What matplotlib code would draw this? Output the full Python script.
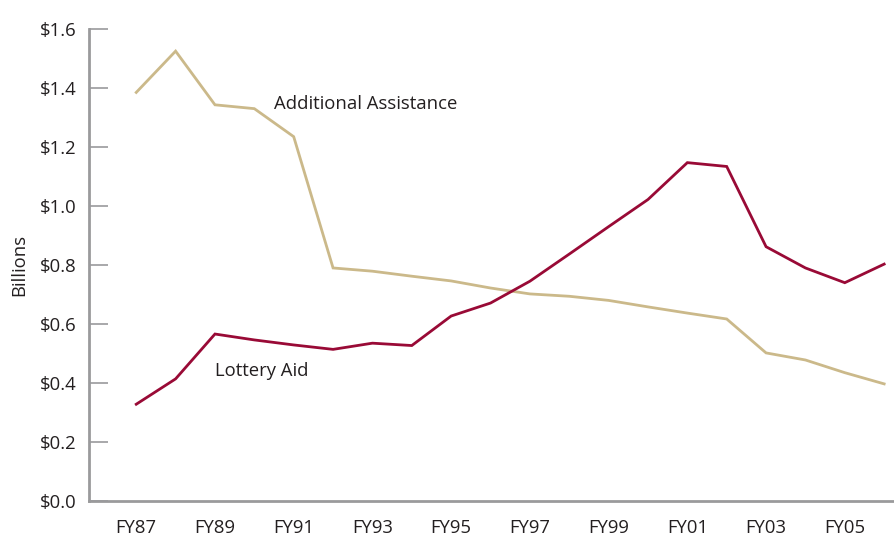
import matplotlib
matplotlib.use("Agg")
import matplotlib.pyplot as plt
import numpy as np

plt.rcParams['font.family'] = ['Open Sans', 'DejaVu Sans']

# fiscal years FY87 .. FY06
years = ["FY87", "FY88", "FY89", "FY90", "FY91", "FY92", "FY93", "FY94", "FY95", "FY96",
         "FY97", "FY98", "FY99", "FY00", "FY01", "FY02", "FY03", "FY04", "FY05", "FY06"]

# billions of dollars
additional_assistance = [1.385, 1.525, 1.343, 1.33, 1.235, 0.79, 0.779, 0.762, 0.746, 0.722,
                         0.702, 0.694, 0.68, 0.658, 0.637, 0.617, 0.502, 0.478, 0.435, 0.397]
lottery_aid = [0.328, 0.414, 0.566, 0.546, 0.529, 0.514, 0.535, 0.527, 0.627, 0.671,
               0.745, 0.837, 0.93, 1.022, 1.147, 1.134, 0.862, 0.79, 0.74, 0.803]

yticks = [0.0, 0.2, 0.4, 0.6, 0.8, 1.0, 1.2, 1.4, 1.6]

tan = "#cbb98a"
maroon = "#990a36"
grey = "#9a9a9c"
text_col = "#231f20"

fig = plt.figure(figsize=(8.95, 5.37), dpi=100)
ax = fig.add_axes([89 / 895, 1 - 501 / 537, 805 / 895, (501 - 29) / 537])

x = np.arange(len(years))
ax.plot(x, additional_assistance, color=tan, lw=2.0, solid_joinstyle="miter")
ax.plot(x, lottery_aid, color=maroon, lw=2.0, solid_joinstyle="miter")

ax.set_xlim(-1.2, 19.25)
ax.set_ylim(0, 1.6)

ax.set_xticks(x[::2])
ax.set_xticklabels(years[::2], fontsize=13.3, color=text_col)
ax.tick_params(axis="x", length=0, pad=13)

ax.set_yticks(yticks)
ax.set_yticklabels(["$%.1f" % v for v in yticks], fontsize=13.3, color=text_col)
ax.tick_params(axis="y", direction="in", length=14, width=1.2, color=grey, pad=9)

for side in ("top", "right"):
    ax.spines[side].set_visible(False)
for side in ("left", "bottom"):
    ax.spines[side].set_color(grey)
    ax.spines[side].set_linewidth(2.0)

ax.set_ylabel("Billions", fontsize=13.3, color=text_col, labelpad=8)

ax.text(3.5, 1.345, "Additional Assistance", fontsize=13.3, color=text_col, va="center")
ax.text(2.0, 0.44, "Lottery Aid", fontsize=13.3, color=text_col, va="center")

fig.savefig("out.png", dpi=100)
